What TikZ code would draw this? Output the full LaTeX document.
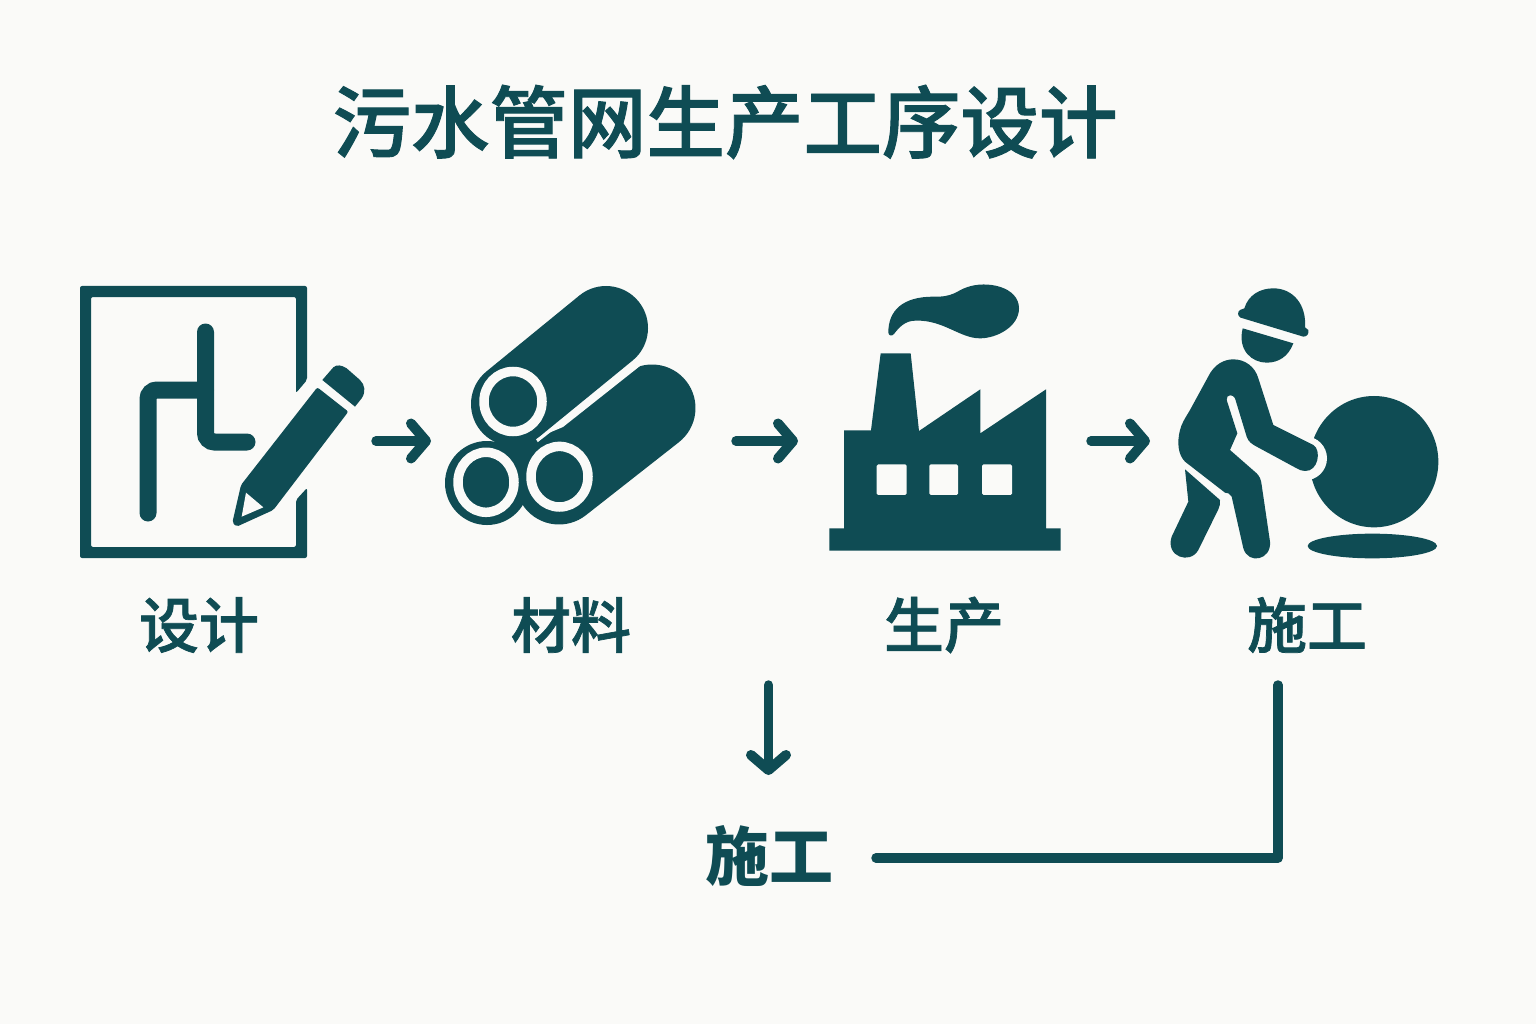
\documentclass[tikz,border=0pt]{standalone}
\usepackage{fontspec}
\usetikzlibrary{arrows.meta}
\newfontfamily\cjk{Noto Sans CJK SC}
\newfontfamily\cjkmid[FakeBold=1.2]{Noto Sans CJK SC Medium}
\definecolor{ink}{HTML}{0F4C54}
\definecolor{paper}{HTML}{FAFAF8}
\tikzset{
  title text/.style={text=ink,font=\cjkmid\fontsize{78.5}{90}\selectfont,inner sep=0pt},
  label text/.style={text=ink,font=\cjkmid\fontsize{60}{70}\selectfont,inner sep=0pt},
  bottom text/.style={text=ink,font=\cjk\bfseries\fontsize{64}{74}\selectfont,inner sep=0pt},
  flow/.style={draw=ink,line width=9.5pt,line cap=round,line join=round},
  flowarrow/.style={flow,-{Straight Barb[round,length=15pt,width=35pt,line width=10pt]}},
  pipeline/.style={draw=ink,line width=17pt,line cap=round,rounded corners=9pt},
  tube/.style={draw=ink,line width=84pt,line cap=round},
  ringline/.style={draw=paper,fill=ink,line width=9.5pt},
  solid ink/.style={fill=ink},
  gap/.style={fill=paper}
}
\begin{document}
\begin{tikzpicture}[x=1pt,y=-1pt]
\useasboundingbox (0,0) rectangle (1536,1024);
\fill[paper] (0,0) rectangle (1536,1024);

% design icon
\fill[solid ink,rounded corners=2pt,even odd rule]
  (80,286) -- (307,286) -- (307,380) -- (296,393) -- (296,297) -- (91,297) -- (91,547) -- (296,547) -- (296,500) -- (307,488) -- (307,558) -- (80,558) -- cycle;
\draw[pipeline] (205.5,332) -- (205.5,442) -- (247,442);
\draw[pipeline] (148,513) -- (148,390) -- (205.5,390);
\begin{scope}[shift={(60,270)},scale=1/3]
  \fill[solid ink,rounded corners=2pt] (772,352) -- (865,425) -- (640,720) -- (530,770) -- (517,758) -- (543,645) -- cycle;
  \fill[gap] (558,668) -- (610,712) -- (545,740) -- cycle;
  \fill[solid ink] (787,330) -- (820,292) .. controls (830,283) and (845,285) .. (860,295) -- (900,330) .. controls (915,345) and (918,365) .. (905,385) -- (885,410) -- cycle;
\end{scope}

% materials icon
\draw[tube,line width=87pt] (559,481) -- (652,408);
\fill[gap] (533,439.5) -- (563,427) -- (640,366) -- (658,335) -- (620,335) -- (540,430) -- cycle;
\draw[tube] (513,404) -- (606,328);
\draw[tube] (487,483) -- (487,483.01);
\fill[solid ink] (513,402) -- (486,482) -- (559,477) -- cycle;
\draw[ringline] (513,401.5) ellipse [x radius=29,y radius=30];
\draw[ringline] (486,482.3) ellipse [x radius=28,y radius=30];
\draw[ringline] (559.5,476.7) ellipse [x radius=28.5,y radius=30.3];

% factory icon
\begin{scope}[shift={(820,270)},scale=1/3]
  \fill[solid ink] (205,187) .. controls (205,120) and (250,80) .. (340,80) .. controls (400,82) and (410,62) .. (440,52) .. controls (500,30) and (597,50) .. (597,115) .. controls (597,170) and (530,205) .. (480,205) .. controls (420,205) and (370,150) .. (290,152) .. controls (255,150) and (235,175) .. (222,192) .. controls (215,200) and (205,197) .. (205,187) -- cycle;
  \fill[solid ink] (28,775) -- (72,775) -- (72,481) -- (153,481) -- (182,250) -- (272,250) -- (297,483) -- (481,358) -- (481,490) -- (678,358) -- (678,775) -- (722,775) -- (722,842) -- (28,842) -- cycle;
  \fill[gap,rounded corners=1.5pt] (170,583) rectangle (260,675);
  \fill[gap,rounded corners=1.5pt] (328,583) rectangle (414,675);
  \fill[gap,rounded corners=1.5pt] (486,583) rectangle (576,675);
\end{scope}

% worker icon
\begin{scope}[shift={(1150,270)},scale=1/3]
  \fill[solid ink] (672,575) ellipse [x radius=193,y radius=197];
  \fill[gap] (465,565) circle (66);
  \fill[solid ink] (667,828) ellipse [x radius=194,y radius=37];
  \fill[solid ink] (270,120) -- (283,115) .. controls (295,75) and (330,55) .. (370,55) .. controls (430,55) and (470,105) .. (465,172) -- (475,180) .. controls (478,192) and (470,200) .. (460,200) -- (272,143) .. controls (262,138) and (262,125) .. (270,120) -- cycle;
  \fill[solid ink] (278,175) -- (430,220) .. controls (415,260) and (385,278) .. (350,278) .. controls (305,278) and (262,240) .. (278,175) -- cycle;
  \fill[solid ink] (250,268) .. controls (285,268) and (315,290) .. (325,325) -- (370,465) -- (490,525) .. controls (515,540) and (505,605) .. (465,603) .. controls (455,603) and (450,600) .. (440,595) -- (320,530) .. controls (305,522) and (295,515) .. (290,500) -- (255,385) .. controls (250,372) and (228,372) .. (230,390) -- (262,490) -- (240,540) -- (320,610) .. controls (330,620) and (333,630) .. (335,645) -- (360,815) .. controls (365,870) and (295,885) .. (280,835) -- (245,680) -- (235,670) -- (225,668) -- (105,575) .. controls (85,555) and (80,520) .. (90,480) .. controls (95,460) and (105,445) .. (120,420) -- (180,310) .. controls (195,285) and (220,268) .. (250,268) -- cycle;
  \fill[solid ink] (105,598) -- (210,690) .. controls (212,700) and (208,710) .. (205,718) -- (145,840) .. controls (120,885) and (45,860) .. (65,800) -- (115,695) -- cycle;
\end{scope}

% texts
\node[title text] (title) at (725,122) {污水管网生产工序设计};
\node[label text] (lblDesign) at (199,625) {设计};
\node[label text] (lblMaterial) at (571,625) {材料};
\node[label text] (lblProduction) at (944,625) {生产};
\node[label text] (lblConstruction) at (1307,625) {施工};
\node[bottom text] (lblBottom) at (769,856) {施工};

% connectors
\coordinate (a1s) at (376,441); \coordinate (a1e) at (431,441);
\coordinate (a2s) at (736,441); \coordinate (a2e) at (798,441);
\coordinate (a3s) at (1091,441); \coordinate (a3e) at (1150,441);
\coordinate (dns) at (768.5,685); \coordinate (dne) at (768.5,775);
\coordinate (elbowstart) at (876,858); \coordinate (elbowcorner) at (1278,858); \coordinate (elbowend) at (1278,685);
\draw[flowarrow] (a1s) -- (a1e);
\draw[flowarrow] (a2s) -- (a2e);
\draw[flowarrow] (a3s) -- (a3e);
\draw[flowarrow] (dns) -- (dne);
\draw[flow] (elbowstart) -- (elbowcorner) -- (elbowend);
\end{tikzpicture}
\end{document}
